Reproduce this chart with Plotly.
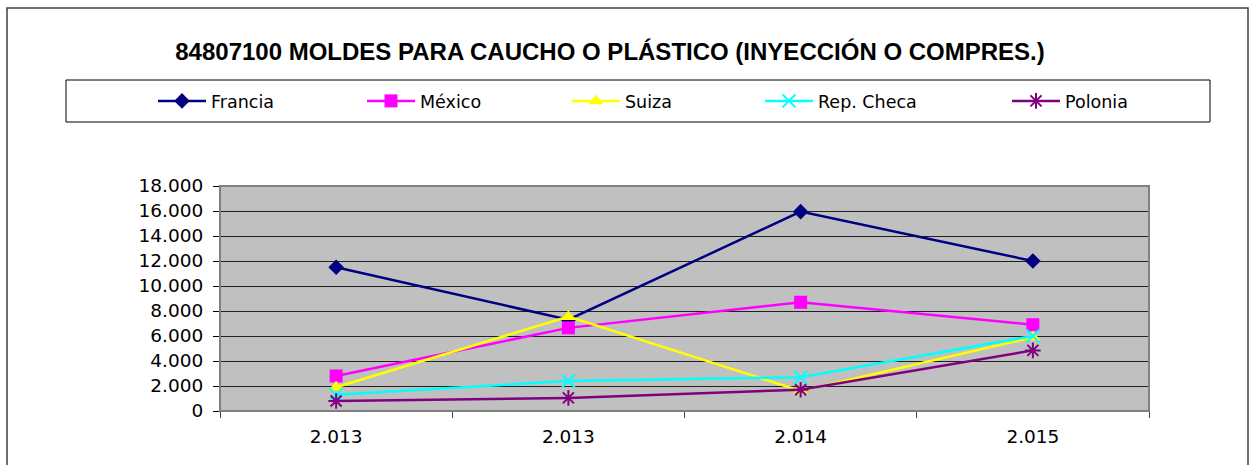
import plotly.graph_objects as go

categories = ["2.013", "2.013", "2.014", "2.015"]
x_pos = [0, 1, 2, 3]

francia = [11500, 7300, 15950, 12000]
mexico = [2800, 6650, 8700, 6900]
suiza = [1900, 7550, 1600, 5900]
rep_checa = [1300, 2400, 2700, 6000]
polonia = [800, 1050, 1700, 4850]

series_names = ["Francia", "México", "Suiza", "Rep. Checa", "Polonia"]
series_values = [francia, mexico, suiza, rep_checa, polonia]
colors = ["#000080", "#FF00FF", "#FFFF00", "#00FFFF", "#800080"]
symbols = ["diamond", "square", "triangle-up", "x-thin-open", "asterisk-open"]
sizes = [12, 13, 13, 13, 13]
legend_x_px = [153, 362, 567, 760, 1007]

W, H = 1255, 465
L, R, T, B = 220, 1149, 186, 411

fig = go.Figure()
for i, (name, vals) in enumerate(zip(series_names, series_values)):
    lg = "legend" if i == 0 else f"legend{i+1}"
    fig.add_trace(go.Scatter(
        x=x_pos, y=vals, name=name, mode="lines+markers",
        line=dict(color=colors[i], width=2.5),
        marker=dict(symbol=symbols[i], size=sizes[i], color=colors[i],
                    line=dict(color=colors[i], width=2 if i >= 3 else 0)),
        legend=lg,
    ))

font_axis = dict(family="DejaVu Sans", size=18.5, color="black")

def px_x(p):
    return (p - L) / (R - L)

def px_y(p):
    return (B - p) / (B - T)

layout_legends = {}
for i in range(5):
    key = "legend" if i == 0 else f"legend{i+1}"
    layout_legends[key] = dict(
        x=legend_x_px[i] / W, xref="container", xanchor="left",
        y=1 - 101 / H, yref="container", yanchor="middle",
        orientation="h", bgcolor="rgba(0,0,0,0)", borderwidth=0,
        font=dict(family="DejaVu Sans", size=17.5, color="black"),
        itemwidth=48,
    )

fig.update_layout(
    width=W, height=H,
    margin=dict(l=L, r=W - R, t=T, b=H - B, pad=0),
    paper_bgcolor="white", plot_bgcolor="#C0C0C0",
    separators=",.",
    title=dict(text="<b>84807100 MOLDES PARA CAUCHO O PLÁSTICO (INYECCIÓN O COMPRES.)</b>",
               x=610 / W, xref="container", xanchor="center",
               y=1 - 52 / H, yref="container", yanchor="middle",
               font=dict(family="Liberation Sans", size=24, color="black")),
    showlegend=True,
    **layout_legends,
    xaxis=dict(
        range=[-0.5, 3.5], tickmode="array", tickvals=x_pos, ticktext=categories,
        ticks="", showgrid=False, zeroline=False,
        showline=True, linecolor="black", linewidth=1,
        tickfont=font_axis, ticklabelstandoff=9,
        minor=dict(tickmode="array", tickvals=[-0.5, 0.5, 1.5, 2.5, 3.5],
                   ticks="outside", ticklen=6, tickcolor="#404040", tickwidth=1,
                   showgrid=False),
    ),
    yaxis=dict(
        range=[0, 18000], dtick=2000, tickformat=",d",
        showgrid=True, gridcolor="#202020", gridwidth=1,
        zeroline=False, showline=True, linecolor="black", linewidth=1,
        ticks="outside", ticklen=6, tickcolor="black",
        tickfont=font_axis, ticklabelstandoff=6,
    ),
    shapes=[
        dict(type="rect", xref="paper", yref="paper", x0=0, x1=1, y0=0, y1=1,
             line=dict(color="#808080", width=2), layer="above"),
        dict(type="rect", xref="paper", yref="paper",
             x0=px_x(66), x1=px_x(1210), y0=px_y(122), y1=px_y(80),
             line=dict(color="black", width=1)),
        dict(type="rect", xref="paper", yref="paper",
             x0=px_x(7), x1=px_x(1248), y0=px_y(480), y1=px_y(8),
             line=dict(color="#404040", width=1.5)),
    ],
)

fig.write_html("out.html", config={"displayModeBar": False},
               post_script="document.body.style.margin='0';")
